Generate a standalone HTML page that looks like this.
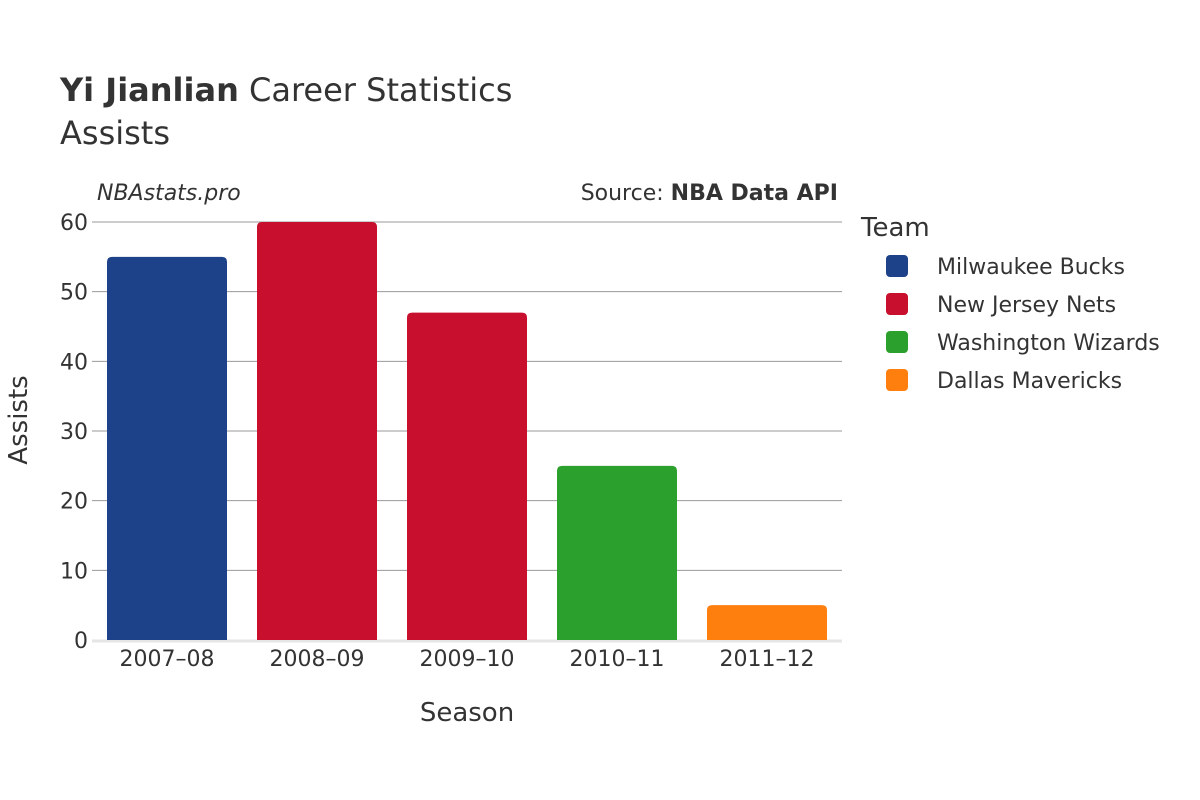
<!DOCTYPE html>
<html><head><meta charset="utf-8"><style>
html,body{margin:0;padding:0;background:#fff;}
svg{display:block;font-family:"DejaVu Sans","Liberation Sans",sans-serif;}
</style></head><body>
<svg id="chart" width="1200" height="800" viewBox="0 0 1200 800">
<text x="60" y="101" font-size="32" fill="#333"><tspan font-weight="bold">Yi Jianlian</tspan> Career Statistics</text>
<text x="60" y="144" font-size="32" fill="#333">Assists</text>
<text x="97" y="200" font-size="22" font-style="italic" fill="#333">NBAstats.pro</text>
<text x="838" y="200" font-size="22" text-anchor="end" fill="#333">Source: <tspan font-weight="bold">NBA Data API</tspan></text>
<g id="grid"></g>
<g id="bars"></g>
<g id="yticks"></g>
<g id="xticks"></g>
<text x="467" y="721" font-size="26" text-anchor="middle" fill="#333">Season</text>
<text transform="translate(27,420) rotate(-90)" font-size="26" text-anchor="middle" fill="#333">Assists</text>
<g id="legend">
<text x="861" y="236" font-size="26" fill="#333">Team</text>
</g>
</svg>
<script>
const seasons = ["2007–08","2008–09","2009–10","2010–11","2011–12"];
const assists = [55, 60, 47, 25, 5];
const barTeams = [0, 1, 1, 2, 3];
const teams = ["Milwaukee Bucks","New Jersey Nets","Washington Wizards","Dallas Mavericks"];
const teamColors = ["#1d428a","#c8102e","#2ca02c","#ff7f0e"];
const yTicks = [0,10,20,30,40,50,60];

const NS = "http://www.w3.org/2000/svg";
const plotL = 92, plotR = 842, plotB = 640, plotT = 222, yMax = 60;
const band = (plotR - plotL) / seasons.length;
function xPos(i){ return plotL + band * i; }
function yPos(v){ return plotB - (plotB - plotT) * v / yMax; }
function mk(tag, attrs, parent){ const e = document.createElementNS(NS, tag); for (const k in attrs) e.setAttribute(k, attrs[k]); parent.appendChild(e); return e; }

const grid = document.getElementById('grid');
const yt = document.getElementById('yticks');
yTicks.forEach(t => {
  if (t > 0) {
    const l = mk('line', {x1: plotL, x2: plotR, y1: yPos(t), y2: yPos(t), stroke: '#999', 'stroke-width': 1}, grid);
    
    
  }
  const tx = mk('text', {x: 88, y: yPos(t) + 8, 'font-size': 22, 'text-anchor': 'end', fill: '#333'}, yt);
  tx.textContent = t;
  
  
});
const base = mk('line', {x1: plotL, x2: plotR, y1: plotB + 1, y2: plotB + 1, stroke: '#e6e6e6', 'stroke-width': 3}, grid);



const bars = document.getElementById('bars');
const xt = document.getElementById('xticks');
const pad = 15, r = 5;
seasons.forEach((s, i) => {
  const x0 = xPos(i) + pad, w = band - 2 * pad, yTop = yPos(assists[i]), h = plotB - yTop;
  const rr = Math.min(r, h / 2);
  const d = `M${x0},${plotB} V${yTop + rr} Q${x0},${yTop} ${x0 + rr},${yTop} H${x0 + w - rr} Q${x0 + w},${yTop} ${x0 + w},${yTop + rr} V${plotB} Z`;
  const p = mk('path', {d: d, fill: teamColors[barTeams[i]]}, bars);
  
  
  const tx = mk('text', {x: xPos(i) + band / 2, y: 666, 'font-size': 22, 'text-anchor': 'middle', fill: '#333'}, xt);
  tx.textContent = s;
  
  
});

const lg = document.getElementById('legend');
teams.forEach((t, i) => {
  const cy = 266 + 38 * i;
  const g = mk('g', {}, lg);
  
  
  mk('rect', {x: 886, y: cy - 11, width: 22, height: 22, rx: 4, fill: teamColors[i]}, g);
  const tx = mk('text', {x: 937, y: cy + 8, 'font-size': 22, fill: '#333'}, g);
  tx.textContent = t;
});
</script>
</body></html>
